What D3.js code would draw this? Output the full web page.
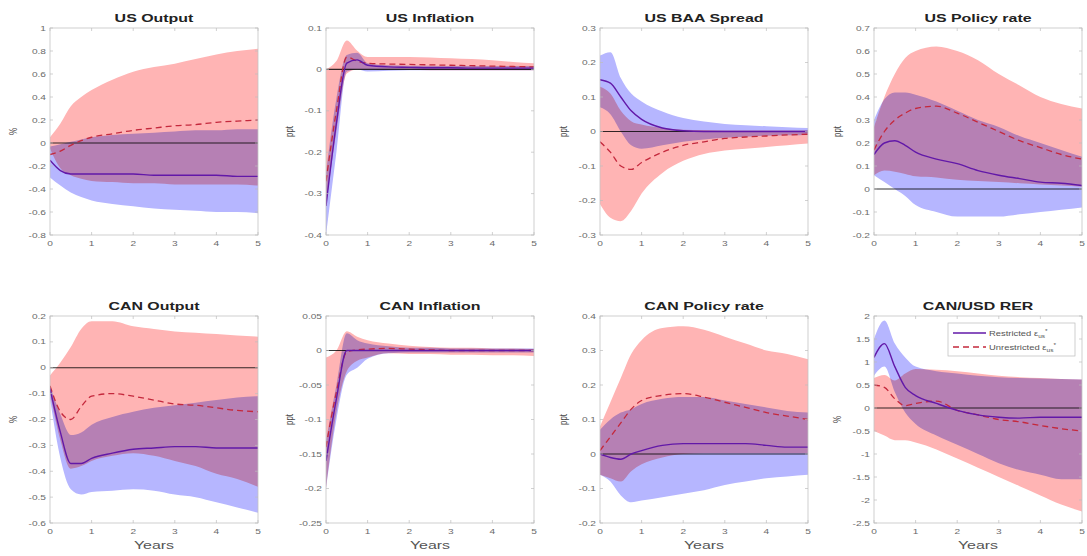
<!DOCTYPE html>
<html>
<head>
<meta charset="utf-8">
<script src="https://cdn.jsdelivr.net/npm/d3@7"></script>
<style>
  body { margin: 0; background: #fff; }
  svg { display: block; font-family: "Liberation Sans", Arial, sans-serif; }
</style>
</head>
<body>
<div id="chart"></div>
<script>
// quarters after the shock, in years
var years = [0, 0.25, 0.5, 0.75, 1, 1.5, 2, 2.5, 3, 3.5, 4, 4.5, 5];
var xTicks = [0, 1, 2, 3, 4, 5];

// US Output
var usOutRes   = [-0.15, -0.24, -0.27, -0.27, -0.27, -0.27, -0.27, -0.28, -0.28, -0.28, -0.28, -0.29, -0.29];
var usOutResLo = [-0.30, -0.37, -0.43, -0.47, -0.50, -0.53, -0.55, -0.57, -0.58, -0.59, -0.60, -0.60, -0.61];
var usOutResHi = [-0.03, -0.01, 0.01, 0.03, 0.05, 0.07, 0.08, 0.09, 0.10, 0.11, 0.11, 0.12, 0.12];
var usOutUnr   = [-0.10, -0.07, -0.02, 0.02, 0.05, 0.08, 0.11, 0.13, 0.15, 0.16, 0.18, 0.19, 0.20];
var usOutUnrLo = [-0.05, -0.22, -0.28, -0.31, -0.33, -0.34, -0.35, -0.35, -0.36, -0.36, -0.36, -0.36, -0.37];
var usOutUnrHi = [0.05, 0.17, 0.32, 0.40, 0.46, 0.55, 0.62, 0.66, 0.69, 0.73, 0.77, 0.80, 0.82];

// US Inflation
var usInfRes   = [-0.33, -0.13, 0.015, 0.023, 0.010, 0.006, 0.005, 0.004, 0.004, 0.003, 0.003, 0.003, 0.003];
var usInfResLo = [-0.40, -0.20, -0.005, 0.000, -0.005, -0.003, -0.002, -0.002, -0.002, -0.002, -0.002, -0.002, -0.002];
var usInfResHi = [-0.25, -0.07, 0.035, 0.040, 0.015, 0.010, 0.009, 0.009, 0.008, 0.008, 0.008, 0.008, 0.008];
var usInfUnr   = [-0.27, -0.10, 0.030, 0.020, 0.015, 0.013, 0.012, 0.011, 0.010, 0.009, 0.008, 0.007, 0.006];
var usInfUnrLo = [-0.33, -0.15, -0.010, 0.000, 0.000, -0.001, -0.001, -0.002, -0.002, -0.002, -0.002, -0.002, -0.002];
var usInfUnrHi = [0.00, 0.02, 0.070, 0.045, 0.030, 0.030, 0.030, 0.029, 0.027, 0.025, 0.022, 0.018, 0.015];

// US BAA Spread
var usBaaRes   = [0.15, 0.14, 0.10, 0.06, 0.035, 0.010, 0.002, 0.000, 0.000, 0.000, 0.000, 0.000, 0.000];
var usBaaResLo = [0.07, 0.05, 0.00, -0.04, -0.05, -0.04, -0.03, -0.023, -0.018, -0.015, -0.012, -0.011, -0.010];
var usBaaResHi = [0.22, 0.23, 0.155, 0.11, 0.087, 0.058, 0.039, 0.029, 0.022, 0.018, 0.015, 0.012, 0.010];
var usBaaUnr   = [-0.03, -0.06, -0.10, -0.11, -0.09, -0.06, -0.04, -0.03, -0.02, -0.016, -0.013, -0.010, -0.008];
var usBaaUnrLo = [-0.21, -0.25, -0.26, -0.23, -0.18, -0.12, -0.085, -0.065, -0.055, -0.05, -0.045, -0.04, -0.035];
var usBaaUnrHi = [0.13, 0.11, 0.06, 0.03, 0.02, 0.01, 0.005, 0.004, 0.003, 0.003, 0.003, 0.003, 0.003];

// US Policy rate
var usPolRes   = [0.15, 0.20, 0.21, 0.19, 0.16, 0.13, 0.11, 0.08, 0.06, 0.045, 0.03, 0.025, 0.015];
var usPolResLo = [0.06, 0.03, 0.00, -0.03, -0.07, -0.10, -0.12, -0.12, -0.12, -0.11, -0.10, -0.09, -0.08];
var usPolResHi = [0.30, 0.39, 0.42, 0.42, 0.41, 0.38, 0.34, 0.30, 0.27, 0.23, 0.20, 0.17, 0.14];
var usPolUnr   = [0.17, 0.25, 0.30, 0.33, 0.35, 0.36, 0.33, 0.29, 0.25, 0.21, 0.18, 0.15, 0.13];
var usPolUnrLo = [0.06, 0.08, 0.075, 0.065, 0.055, 0.05, 0.04, 0.035, 0.03, 0.025, 0.02, 0.015, 0.01];
var usPolUnrHi = [0.27, 0.40, 0.50, 0.57, 0.60, 0.62, 0.60, 0.56, 0.50, 0.45, 0.40, 0.37, 0.35];

// CAN Output
var canOutRes   = [-0.08, -0.25, -0.37, -0.37, -0.35, -0.33, -0.315, -0.31, -0.305, -0.305, -0.31, -0.31, -0.31];
var canOutResLo = [-0.12, -0.35, -0.47, -0.49, -0.48, -0.475, -0.47, -0.475, -0.49, -0.50, -0.52, -0.54, -0.56];
var canOutResHi = [-0.07, -0.18, -0.26, -0.25, -0.22, -0.19, -0.17, -0.155, -0.145, -0.135, -0.125, -0.115, -0.11];
var canOutUnr   = [-0.07, -0.17, -0.20, -0.15, -0.11, -0.10, -0.11, -0.125, -0.14, -0.145, -0.155, -0.165, -0.17];
var canOutUnrLo = [-0.10, -0.28, -0.39, -0.38, -0.36, -0.34, -0.33, -0.34, -0.36, -0.38, -0.41, -0.43, -0.46];
var canOutUnrHi = [-0.03, 0.02, 0.08, 0.15, 0.18, 0.18, 0.16, 0.15, 0.14, 0.135, 0.13, 0.125, 0.12];

// CAN Inflation
var canInfRes   = [-0.16, -0.07, 0.000, 0.000, 0.000, 0.000, 0.000, 0.000, 0.000, 0.000, 0.000, 0.000, 0.000];
var canInfResLo = [-0.20, -0.10, -0.035, -0.025, -0.012, -0.004, -0.003, -0.003, -0.003, -0.003, -0.003, -0.003, -0.003];
var canInfResHi = [-0.13, -0.05, 0.025, 0.015, 0.010, 0.006, 0.004, 0.004, 0.003, 0.003, 0.003, 0.003, 0.003];
var canInfUnr   = [-0.14, -0.06, -0.002, 0.001, 0.002, 0.003, 0.002, 0.001, 0.000, 0.000, 0.000, 0.000, 0.000];
var canInfUnrLo = [-0.20, -0.09, -0.030, -0.015, -0.010, -0.004, -0.005, -0.005, -0.006, -0.006, -0.007, -0.007, -0.008];
var canInfUnrHi = [-0.01, 0.00, 0.028, 0.020, 0.015, 0.010, 0.007, 0.005, 0.004, 0.004, 0.003, 0.003, 0.002];

// CAN Policy rate
var canPolRes   = [0.00, -0.01, -0.015, 0.00, 0.01, 0.025, 0.03, 0.03, 0.03, 0.03, 0.025, 0.02, 0.02];
var canPolResLo = [-0.06, -0.08, -0.12, -0.14, -0.135, -0.125, -0.115, -0.105, -0.09, -0.08, -0.07, -0.065, -0.06];
var canPolResHi = [0.07, 0.10, 0.12, 0.13, 0.145, 0.16, 0.165, 0.165, 0.155, 0.145, 0.135, 0.125, 0.12];
var canPolUnr   = [0.01, 0.05, 0.09, 0.13, 0.155, 0.17, 0.175, 0.165, 0.15, 0.135, 0.12, 0.11, 0.10];
var canPolUnrLo = [-0.06, -0.07, -0.08, -0.05, -0.03, -0.01, 0.00, 0.002, 0.002, 0.002, 0.002, 0.002, 0.002];
var canPolUnrHi = [0.08, 0.15, 0.22, 0.29, 0.33, 0.365, 0.37, 0.36, 0.34, 0.32, 0.30, 0.29, 0.275];

// CAN/USD RER
var rerRes   = [1.10, 1.40, 0.90, 0.45, 0.27, 0.10, -0.05, -0.15, -0.20, -0.22, -0.20, -0.20, -0.20];
var rerResLo = [0.70, 0.90, 0.35, -0.10, -0.35, -0.60, -0.80, -1.00, -1.20, -1.35, -1.45, -1.55, -1.55];
var rerResHi = [1.50, 1.90, 1.40, 1.10, 0.90, 0.80, 0.75, 0.70, 0.67, 0.65, 0.64, 0.63, 0.62];
var rerUnr   = [0.50, 0.45, 0.20, 0.05, 0.10, 0.15, -0.05, -0.15, -0.25, -0.30, -0.38, -0.45, -0.50];
var rerUnrLo = [-0.50, -0.60, -0.70, -0.70, -0.75, -0.90, -1.10, -1.30, -1.50, -1.70, -1.90, -2.10, -2.25];
var rerUnrHi = [0.65, 0.72, 0.60, 0.75, 0.85, 0.83, 0.80, 0.75, 0.70, 0.67, 0.65, 0.63, 0.62];

var panels = [
  { title: "US Output", unit: "%", y: [-0.8, 1], step: 0.2,
    res: usOutRes, resLo: usOutResLo, resHi: usOutResHi, unr: usOutUnr, unrLo: usOutUnrLo, unrHi: usOutUnrHi },
  { title: "US Inflation", unit: "ppt", y: [-0.4, 0.1], step: 0.1,
    res: usInfRes, resLo: usInfResLo, resHi: usInfResHi, unr: usInfUnr, unrLo: usInfUnrLo, unrHi: usInfUnrHi },
  { title: "US BAA Spread", unit: "ppt", y: [-0.3, 0.3], step: 0.1,
    res: usBaaRes, resLo: usBaaResLo, resHi: usBaaResHi, unr: usBaaUnr, unrLo: usBaaUnrLo, unrHi: usBaaUnrHi },
  { title: "US Policy rate", unit: "ppt", y: [-0.2, 0.7], step: 0.1,
    res: usPolRes, resLo: usPolResLo, resHi: usPolResHi, unr: usPolUnr, unrLo: usPolUnrLo, unrHi: usPolUnrHi },
  { title: "CAN Output", unit: "%", y: [-0.6, 0.2], step: 0.1,
    res: canOutRes, resLo: canOutResLo, resHi: canOutResHi, unr: canOutUnr, unrLo: canOutUnrLo, unrHi: canOutUnrHi },
  { title: "CAN Inflation", unit: "ppt", y: [-0.25, 0.05], step: 0.05,
    res: canInfRes, resLo: canInfResLo, resHi: canInfResHi, unr: canInfUnr, unrLo: canInfUnrLo, unrHi: canInfUnrHi },
  { title: "CAN Policy rate", unit: "ppt", y: [-0.2, 0.4], step: 0.1,
    res: canPolRes, resLo: canPolResLo, resHi: canPolResHi, unr: canPolUnr, unrLo: canPolUnrLo, unrHi: canPolUnrHi },
  { title: "CAN/USD RER", unit: "%", y: [-2.5, 2], step: 0.5,
    res: rerRes, resLo: rerResLo, resHi: rerResHi, unr: rerUnr, unrLo: rerUnrLo, unrHi: rerUnrHi, legend: true }
];

var W = 1087, H = 556;
var colLeft = [50, 326, 600, 874];
var rowTop = [28, 316];
var pw = 208, ph = 207;
var SX = 1.45; // the source figure is stretched sideways

var svg = d3.select("#chart").append("svg")
  .attr("width", W)
  .attr("height", H);

var defs = svg.append("defs");

function fmt(v) { return String(+v.toFixed(2)); }

function stext(g, x, y, str) {
  return g.append("text")
    .attr("transform", "translate(" + x + "," + y + ") scale(" + SX + ",1)")
    .text(str);
}

panels.forEach(function(p, i) {
  var left = colLeft[i % 4], top = rowTop[Math.floor(i / 4)];
  var x = d3.scaleLinear().domain([0, 5]).range([0, pw]);
  var y = d3.scaleLinear().domain(p.y).range([ph, 0]);
  var g = svg.append("g").attr("transform", "translate(" + left + "," + top + ")");

  defs.append("clipPath").attr("id", "clip" + i)
    .append("rect").attr("width", pw).attr("height", ph);

  var plot = g.append("g").attr("clip-path", "url(#clip" + i + ")").style("isolation", "isolate");

  // zero line
  plot.append("line")
    .attr("x1", 0).attr("x2", pw)
    .attr("y1", y(0)).attr("y2", y(0))
    .attr("stroke", "#333").attr("stroke-width", 1.1);

  var area = function(lo, hi) {
    return d3.area()
      .x(function(d, k) { return x(years[k]); })
      .y0(function(d, k) { return y(lo[k]); })
      .y1(function(d, k) { return y(hi[k]); })
      .curve(d3.curveMonotoneX)(years);
  };
  var line = d3.line()
    .x(function(d, k) { return x(years[k]); })
    .y(function(d) { return y(d); })
    .curve(d3.curveMonotoneX);

  plot.append("path").attr("d", area(p.resLo, p.resHi))
    .attr("fill", "#b6b6ff").style("mix-blend-mode", "multiply");
  plot.append("path").attr("d", area(p.unrLo, p.unrHi))
    .attr("fill", "#ffb4b4").style("mix-blend-mode", "multiply");

  plot.append("path").attr("d", line(p.unr))
    .attr("fill", "none").attr("stroke", "#c4283c").attr("stroke-width", 1.3)
    .attr("stroke-dasharray", "6,4");
  plot.append("path").attr("d", line(p.res))
    .attr("fill", "none").attr("stroke", "#6218a8").attr("stroke-width", 1.4);

  // axes box
  g.append("rect").attr("width", pw).attr("height", ph)
    .attr("fill", "none").attr("stroke", "#c4c4c4").attr("stroke-width", 0.8);

  var yTicks = d3.range(p.y[0], p.y[1] + p.step / 2, p.step);
  var tk = g.append("g").attr("stroke", "#bdbdbd").attr("stroke-width", 0.7);
  yTicks.forEach(function(v) {
    tk.append("line").attr("x1", 0).attr("x2", 3).attr("y1", y(v)).attr("y2", y(v));
    tk.append("line").attr("x1", pw).attr("x2", pw - 3).attr("y1", y(v)).attr("y2", y(v));
  });
  xTicks.forEach(function(v) {
    tk.append("line").attr("x1", x(v)).attr("x2", x(v)).attr("y1", ph).attr("y2", ph - 3);
    tk.append("line").attr("x1", x(v)).attr("x2", x(v)).attr("y1", 0).attr("y2", 3);
  });

  var lab = g.append("g").attr("font-size", 7).attr("fill", "#6a6a6a");
  yTicks.forEach(function(v) {
    stext(lab, -4, y(v) + 2.5, fmt(v)).attr("text-anchor", "end");
  });
  xTicks.forEach(function(v) {
    stext(lab, x(v), ph + 11, fmt(v)).attr("text-anchor", "middle");
  });

  stext(g, pw / 2, -6, p.title)
    .attr("text-anchor", "middle").attr("font-size", 11).attr("font-weight", "bold").attr("fill", "#222");

  g.append("text")
    .attr("transform", "translate(-33," + (ph / 2) + ") rotate(-90) scale(1," + SX + ")")
    .attr("text-anchor", "middle").attr("font-size", 8).attr("fill", "#444")
    .text(p.unit);

  if (i >= 4) {
    stext(g, pw / 2, ph + 26, "Years")
      .attr("text-anchor", "middle").attr("font-size", 11).attr("fill", "#555");
  }

  if (p.legend) {
    var lg = g.append("g").attr("transform", "translate(" + (pw - 134) + ",7)");
    lg.append("rect").attr("width", 127).attr("height", 33)
      .attr("fill", "#fff").attr("stroke", "#bbb").attr("stroke-width", 0.7);
    lg.append("line").attr("x1", 5).attr("x2", 38).attr("y1", 10).attr("y2", 10)
      .attr("stroke", "#6218a8").attr("stroke-width", 1.4);
    lg.append("line").attr("x1", 5).attr("x2", 38).attr("y1", 24).attr("y2", 24)
      .attr("stroke", "#c4283c").attr("stroke-width", 1.3).attr("stroke-dasharray", "6,4");
    var lt = lg.append("g").attr("font-size", 6.5).attr("fill", "#555");
    var t1 = stext(lt, 41, 12.5, "Restricted ");
    t1.append("tspan").text("ε");
    t1.append("tspan").attr("font-size", 4.5).attr("dy", 2).text("us");
    t1.append("tspan").attr("font-size", 4.5).attr("dy", -4.5).text("*");
    var t2 = stext(lt, 41, 26.5, "Unrestricted ");
    t2.append("tspan").text("ε");
    t2.append("tspan").attr("font-size", 4.5).attr("dy", 2).text("us");
    t2.append("tspan").attr("font-size", 4.5).attr("dy", -4.5).text("*");
  }
});
</script>
</body>
</html>
